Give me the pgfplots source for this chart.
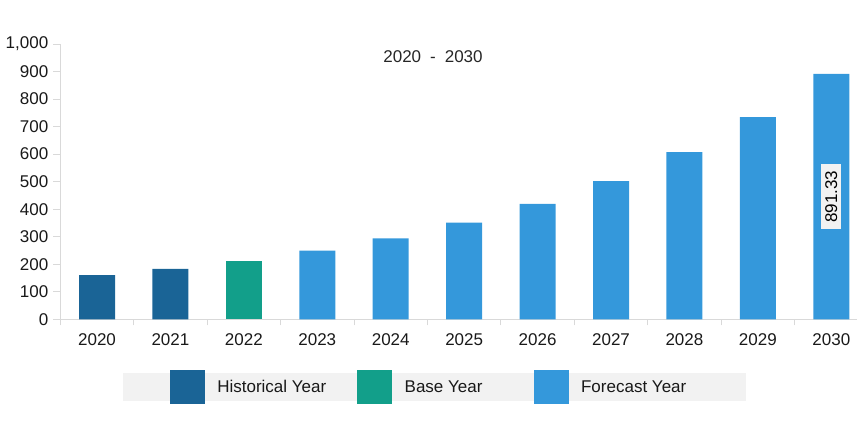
\documentclass[border=0pt]{standalone}
\usepackage{pgfplots}
\pgfplotsset{compat=1.18}
\usepackage{fontspec}
\setmainfont{Liberation Sans}
\definecolor{histc}{HTML}{1A6496}
\definecolor{basec}{HTML}{129F8A}
\definecolor{forec}{HTML}{3498DB}
\definecolor{legbg}{HTML}{F2F2F2}
\definecolor{axc}{HTML}{D9D9D9}
\newcommand{\fs}{\fontsize{17}{20}\selectfont}
\begin{document}
\begin{tikzpicture}[x=1pt,y=1pt]
\path[use as bounding box] (0,0) rectangle (857,422);
\begin{axis}[
  at={(60.3pt,102.7pt)}, anchor=south west,
  scale only axis, width=796.7pt, height=275.3pt,
  xmin=-0.5, xmax=10.35, ymin=0, ymax=1000,
  axis x line*=bottom, axis y line*=left,
  axis line style={draw=axc, line width=0.8pt},
  tick align=outside,
  xtick={0,...,10},
  xticklabels={2020,2021,2022,2023,2024,2025,2026,2027,2028,2029,2030},
  minor xtick={-0.5,0.5,...,9.5},
  every major x tick/.style={draw=none},
  every minor x tick/.style={draw=axc, line width=0.8pt},
  minor tick length=6pt,
  major tick length=7pt,
  every major y tick/.style={draw=axc, line width=0.8pt},
  ytick={0,100,...,1000},
  tick label style={font=\fs, text=black!90},
  x tick label style={yshift=-4pt},
  y tick label style={xshift=-1.5pt},
  /pgf/number format/.cd, 1000 sep={,}, assume math mode=true,
  /pgfplots/.cd,
  legend style={at={(0.4697,-0.2459)}, anchor=center, fill=legbg, draw=none,
    font=\fs, text=black!90, inner xsep=47pt, inner ysep=4pt,
    nodes={inner sep=0pt},
    /tikz/every odd column/.append style={column sep=13pt}},
  legend columns=3,
  legend cell align=left,
]
\addplot[ybar, bar width=36pt, bar shift=0pt, fill=histc, draw=none, forget plot]
  coordinates {(0,160) (1,183)};
\addplot[ybar, bar width=36pt, bar shift=0pt, fill=basec, draw=none, forget plot]
  coordinates {(2,212)};
\addplot[ybar, bar width=36pt, bar shift=0pt, fill=forec, draw=none, forget plot]
  coordinates {(3,249) (4,294) (5,351) (6,419) (7,502) (8,607) (9,734) (10,891.33)};
\addlegendimage{legend image code/.code={\path (0pt,-10pt) rectangle (34pt,10pt); \fill[histc,overlay] (0pt,-16.5pt) rectangle (34pt,16.5pt);}}
\addlegendentry{\makebox[140pt][l]{Historical Year}}
\addlegendimage{legend image code/.code={\path (0pt,-10pt) rectangle (34pt,10pt); \fill[basec,overlay] (0pt,-16.5pt) rectangle (34pt,16.5pt);}}
\addlegendentry{\makebox[129pt][l]{Base Year}}
\addlegendimage{legend image code/.code={\path (0pt,-10pt) rectangle (34pt,10pt); \fill[forec,overlay] (0pt,-16.5pt) rectangle (34pt,16.5pt);}}
\addlegendentry{\makebox[118pt][l]{Forecast Year}}
\node[rotate=90, fill=legbg, inner xsep=6.5pt, inner ysep=4pt, font=\fs] at (axis cs:10,445.67) {891.33};
\node[font=\fontsize{17}{20}\selectfont, text=black!85] at (rel axis cs:0.4678,0.9528) {2020\hspace{9pt}-\hspace{9pt}2030};
\end{axis}
\end{tikzpicture}
\end{document}
